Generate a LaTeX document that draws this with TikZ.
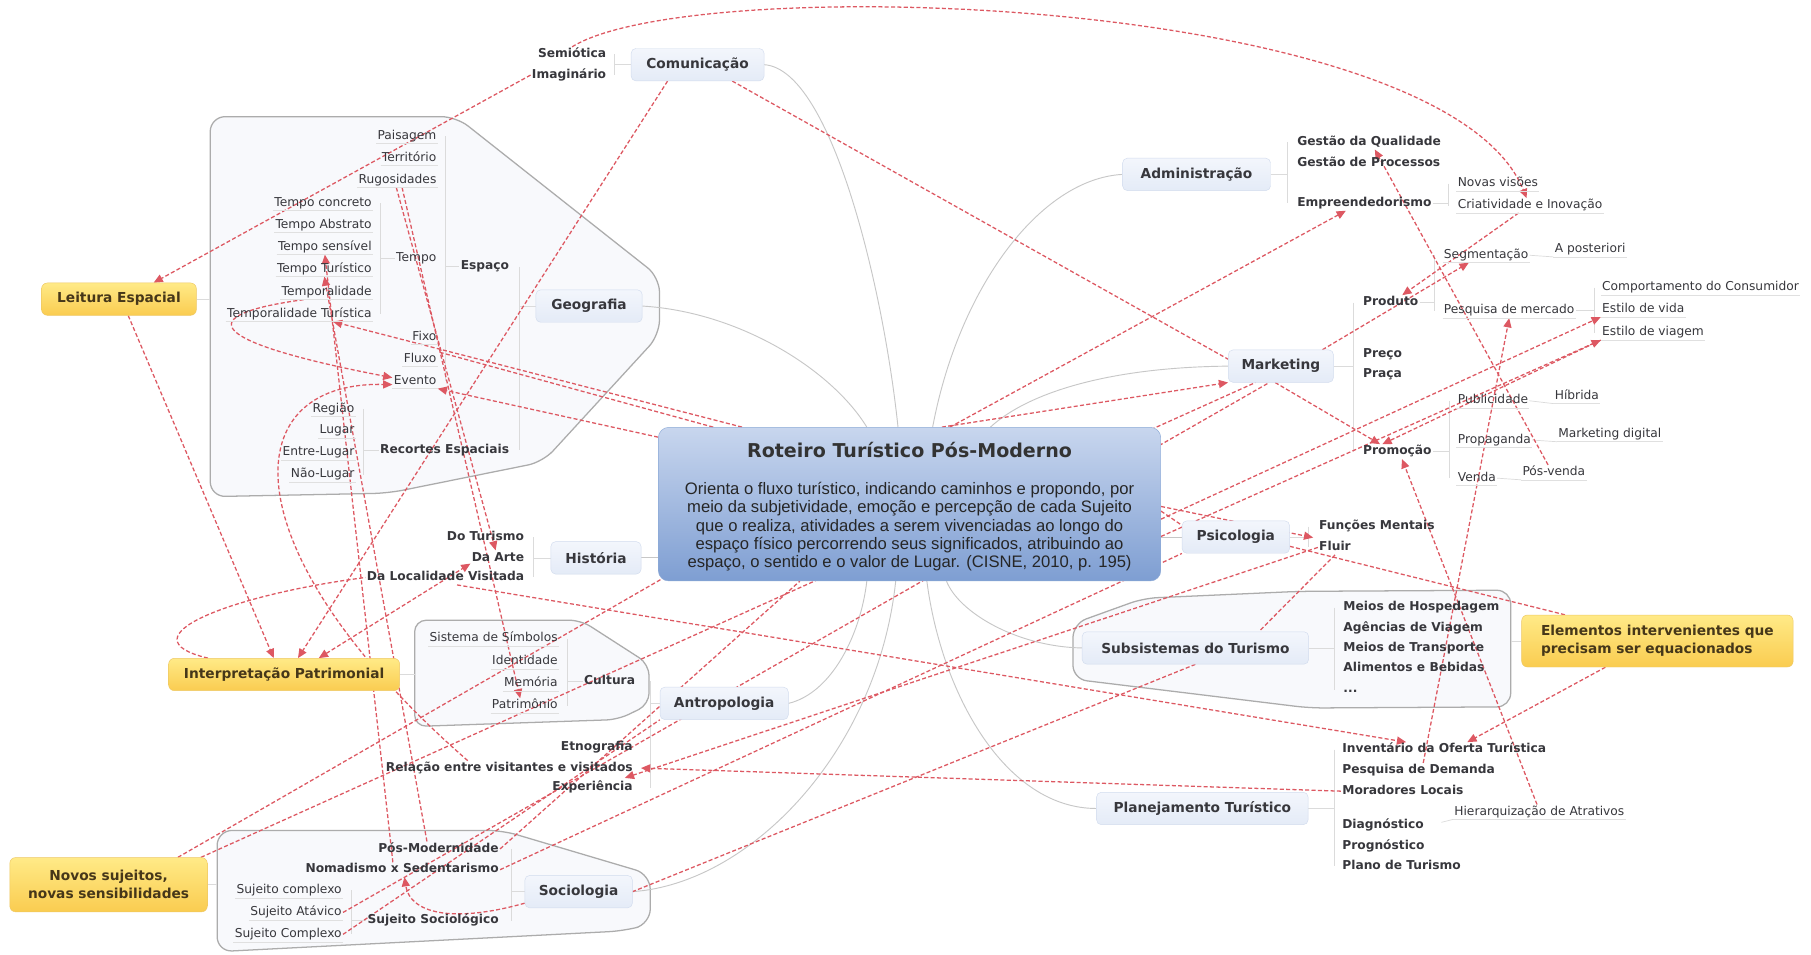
\documentclass[tikz,border=0pt]{standalone}
\usepackage{fontspec}
\setmainfont{DejaVu Sans}
\newfontfamily\arialfont{Liberation Sans}
\usetikzlibrary{arrows.meta}
\pgfdeclarelayer{bg}
\pgfdeclarelayer{lnk}
\pgfsetlayers{bg,lnk,main}
\definecolor{relred}{RGB}{221,88,98}
\definecolor{txt}{RGB}{55,55,60}
\definecolor{brfill}{RGB}{228,235,247}
\definecolor{brtop}{RGB}{243,246,252}
\definecolor{brdr}{RGB}{210,220,238}
\definecolor{ytop}{RGB}{255,234,135}
\definecolor{ybot}{RGB}{250,204,80}
\definecolor{ydr}{RGB}{238,200,100}
\definecolor{ytxt}{RGB}{70,55,25}
\definecolor{ctop}{RGB}{200,214,238}
\definecolor{cbot}{RGB}{126,158,210}
\definecolor{cdr}{RGB}{140,170,215}
\definecolor{grpfill}{RGB}{248,249,252}
\definecolor{grpdr}{RGB}{172,172,172}
\newcommand\mysmall{\fontsize{10.6}{12}\selectfont}
\newcommand\mysmallb{\fontsize{10.6}{12}\selectfont\bfseries}
\newcommand\myhead{\fontsize{11.9}{15.5}\selectfont\bfseries}
\newcommand\mytitle{\fontsize{16.5}{19}\selectfont\bfseries}
\newcommand\mybody{\arialfont\fontsize{14.4}{16}\selectfont}
\tikzset{
  grp/.style={draw=grpdr, line width=1.1pt, fill=grpfill, rounded corners=13pt},
  glink/.style={draw=black!22, line width=0.8pt},
  tree/.style={draw=black!14, line width=0.6pt},
  rel/.style={draw=relred, line width=1.1pt, dash pattern=on 3.5pt off 2pt},
  relA/.style={rel, -{Triangle[length=8pt,width=7pt]}, color=relred},
  relB/.style={rel, {Triangle[length=8pt,width=7pt]}-{Triangle[length=8pt,width=7pt]}, color=relred},
  branch/.style={draw=brdr, top color=brtop, bottom color=brfill, rounded corners=4pt, minimum height=28pt, font=\myhead, text=txt, inner sep=2pt},
  yel/.style={draw=ydr, top color=ytop, bottom color=ybot, rounded corners=5pt, minimum height=28pt, font=\myhead, text=ytxt, inner sep=2pt},
  ch/.style={font=\mysmall, text=txt, inner sep=1pt, text height=8pt, text depth=2.5pt},
  chb/.style={font=\mysmallb, text=txt, inner sep=1pt, text height=8pt, text depth=2.5pt},
  ul/.style={append after command={(\tikzlastnode.south west) edge[draw=black!12, line width=0.5pt] (\tikzlastnode.south east)}}
}
\begin{document}
\begin{tikzpicture}[x=1pt,y=1pt]
\useasboundingbox (0,0) rectangle (1568,-826);

% ---------------- center -----------------
\node[draw=cdr, top color=ctop, bottom color=cbot, rounded corners=9pt, minimum width=435pt, minimum height=133pt] (center) at (787.5,-436.5) {};
\node[font=\mytitle, text=black!80] (title) at (787.5,-390) {Roteiro Turístico Pós-Moderno};
\node[font=\mybody, align=center, text=black!85] (body) at (787.5,-456) {Orienta o fluxo turístico, indicando caminhos e propondo, por\\meio da subjetividade, emoção e percepção de cada Sujeito\\que o realiza, atividades a serem vivenciadas ao longo do\\espaço físico percorrendo seus significados, atribuindo ao\\espaço, o sentido e o valor de Lugar. (CISNE, 2010, p. 195)};

% ---------------- branches -----------------
\node[branch, minimum width=115pt] (com) at (604,-56) {Comunicação};
\node[branch, minimum width=92pt] (geo) at (510,-265) {Geografia};
\node[branch, minimum width=78pt] (his) at (516,-483) {História};
\node[branch, minimum width=111pt] (ant) at (627,-609) {Antropologia};
\node[branch, minimum width=93pt] (soc) at (501,-772) {Sociologia};
\node[branch, minimum width=128pt] (adm) at (1036,-151) {Administração};
\node[branch, minimum width=91pt] (mkt) at (1109,-317) {Marketing};
\node[branch, minimum width=93pt] (psi) at (1070,-465) {Psicologia};
\node[branch, minimum width=196pt] (sub) at (1035,-561) {Subsistemas do Turismo};
\node[branch, minimum width=183pt] (pla) at (1041,-700) {Planejamento Turístico};

\node[yel, minimum width=134pt] (leit) at (103,-259) {Leitura Espacial};
\node[yel, minimum width=200pt] (interp) at (246,-584) {Interpretação Patrimonial};
\node[yel, minimum width=171pt, minimum height=47pt, align=center] (novos) at (94,-766) {Novos sujeitos,\\novas sensibilidades};
\node[yel, minimum width=235pt, minimum height=45pt, align=left] (elem) at (1435,-555) {Elementos intervenientes que\\precisam ser equacionados};

% ---------------- children -----------------
\node[chb, anchor=east] (semi) at (526,-47) {Semiótica};
\node[chb, anchor=east] (imag) at (526,-65) {Imaginário};

\node[chb, anchor=east] (espaco) at (442,-231) {Espaço};
\node[chb, anchor=east] (recortes) at (442,-390) {Recortes Espaciais};
\node[ch, ul, anchor=east] (paisagem) at (379,-118) {Paisagem};
\node[ch, ul, anchor=east] (territorio) at (379,-137) {Território};
\node[ch, ul, anchor=east] (rugos) at (379,-156) {Rugosidades};
\node[ch, anchor=east] (tempo) at (379,-224) {Tempo};
\node[ch, ul, anchor=east] (fixo) at (379,-292) {Fixo};
\node[ch, ul, anchor=east] (fluxo) at (379,-311) {Fluxo};
\node[ch, ul, anchor=east] (evento) at (379,-330) {Evento};
\node[ch, ul, anchor=east] (tconc) at (323,-176) {Tempo concreto};
\node[ch, ul, anchor=east] (tabst) at (323,-195) {Tempo Abstrato};
\node[ch, ul, anchor=east] (tsens) at (323,-214) {Tempo sensível};
\node[ch, ul, anchor=east] (ttur) at (323,-233) {Tempo Turístico};
\node[ch, ul, anchor=east] (tempor) at (323,-253) {Temporalidade};
\node[ch, ul, anchor=east] (temportur) at (323,-272) {Temporalidade Turística};
\node[ch, ul, anchor=east] (regiao) at (308,-354) {Região};
\node[ch, ul, anchor=east] (lugar) at (308,-373) {Lugar};
\node[ch, ul, anchor=east] (entrel) at (308,-392) {Entre-Lugar};
\node[ch, ul, anchor=east] (naol) at (308,-411) {Não-Lugar};

\node[chb, anchor=east] (doturismo) at (455,-465) {Do Turismo};
\node[chb, anchor=east] (daarte) at (455,-483) {Da Arte};
\node[chb, anchor=east] (dalocal) at (455,-500) {Da Localidade Visitada};

\node[chb, anchor=east] (cultura) at (551,-590) {Cultura};
\node[ch, ul, anchor=east] (simbolos) at (484,-553) {Sistema de Símbolos};
\node[ch, ul, anchor=east] (identidade) at (484,-573) {Identidade};
\node[ch, ul, anchor=east] (memoria) at (484,-592) {Memória};
\node[ch, ul, anchor=east] (patrimonio) at (484,-611) {Patrimônio};
\node[chb, anchor=east] (etno) at (549,-647) {Etnografia};
\node[chb, anchor=east] (relacao) at (549,-665) {Relação entre visitantes e visitados};
\node[chb, anchor=east] (experiencia) at (549,-682) {Experiência};

\node[chb, anchor=east] (posmod) at (433,-735) {Pós-Modernidade};
\node[chb, anchor=east] (nomad) at (433,-753) {Nomadismo x Sedentarismo};
\node[chb, anchor=east] (sujsoc) at (433,-797) {Sujeito Sociológico};
\node[ch, ul, anchor=east] (sjc1) at (297,-771) {Sujeito complexo};
\node[ch, ul, anchor=east] (sjat) at (297,-790) {Sujeito Atávico};
\node[ch, ul, anchor=east] (sjc2) at (297,-809) {Sujeito Complexo};

\node[chb, anchor=west] (gqual) at (1122,-123) {Gestão da Qualidade};
\node[chb, anchor=west] (gproc) at (1122,-141) {Gestão de Processos};
\node[chb, anchor=west] (empre) at (1122,-176) {Empreendedorismo};
\node[ch, ul, anchor=west] (novasv) at (1261,-159) {Novas visões};
\node[ch, ul, anchor=west] (criat) at (1261,-178) {Criatividade e Inovação};

\node[chb, anchor=west] (produto) at (1179,-262) {Produto};
\node[chb, anchor=west] (preco) at (1179,-307) {Preço};
\node[chb, anchor=west] (praca) at (1179,-324) {Praça};
\node[chb, anchor=west] (promocao) at (1179,-391) {Promoção};
\node[ch, ul, anchor=west] (segm) at (1249,-221) {Segmentação};
\node[ch, ul, anchor=west] (pesqm) at (1249,-269) {Pesquisa de mercado};
\node[ch, ul, anchor=west] (aposter) at (1345,-216) {A posteriori};
\node[ch, ul, anchor=west] (comport) at (1386,-249) {Comportamento do Consumidor};
\node[ch, ul, anchor=west] (estvida) at (1386,-268) {Estilo de vida};
\node[ch, ul, anchor=west] (estviag) at (1386,-288) {Estilo de viagem};
\node[ch, ul, anchor=west] (public) at (1261,-347) {Publicidade};
\node[ch, ul, anchor=west] (propag) at (1261,-381) {Propaganda};
\node[ch, ul, anchor=west] (venda) at (1261,-414) {Venda};
\node[ch, ul, anchor=west] (hibrida) at (1345,-343) {Híbrida};
\node[ch, ul, anchor=west] (mktdig) at (1348,-376) {Marketing digital};
\node[ch, ul, anchor=west] (posvenda) at (1317,-409) {Pós-venda};

\node[chb, anchor=west] (funcoes) at (1141,-456) {Funções Mentais};
\node[chb, anchor=west] (fluir) at (1141,-474) {Fluir};

\node[chb, anchor=west] (hosped) at (1162,-526) {Meios de Hospedagem};
\node[chb, anchor=west] (agencias) at (1162,-544) {Agências de Viagem};
\node[chb, anchor=west] (transp) at (1162,-561) {Meios de Transporte};
\node[chb, anchor=west] (alim) at (1162,-579) {Alimentos e Bebidas};
\node[chb, anchor=west] (dots) at (1162,-597) {...};

\node[chb, anchor=west] (invent) at (1161,-649) {Inventário da Oferta Turística};
\node[chb, anchor=west] (pesqd) at (1161,-667) {Pesquisa de Demanda};
\node[chb, anchor=west] (morad) at (1161,-685) {Moradores Locais};
\node[chb, anchor=west] (diag) at (1161,-715) {Diagnóstico};
\node[chb, anchor=west] (progn) at (1161,-733) {Prognóstico};
\node[chb, anchor=west] (plano) at (1161,-750) {Plano de Turismo};
\node[ch, ul, anchor=west] (hierarq) at (1258,-703) {Hierarquização de Atrativos};

% ---------------- background: groups, links, tree lines -----------------
\begin{pgfonlayer}{bg}
\fill[white] (0,0) rectangle (1568,-826);
\draw[grp] (182,-101) -- (395,-101) -- (571,-240) -- (571,-290) -- (470,-400) -- (336,-427) -- (182,-430) -- cycle;
\draw[grp, rounded corners=10pt] (359,-537) -- (503,-537) -- (562,-575) -- (562,-610) -- (535,-623) -- (359,-629) -- cycle;
\draw[grp] (188,-719) -- (435,-719) -- (563,-757) -- (563,-800) -- (540,-806) -- (188,-824) -- cycle;
\draw[grp, rounded corners=12pt] (929,-588) -- (929,-540) -- (990,-518) -- (1125,-512) -- (1308,-511) -- (1308,-612) -- (1134,-613) -- cycle;

\draw[glink] (com.east) .. controls (720,-60) and (765,-250) .. ([xshift=-10pt]center.north);
\draw[glink] (geo.east) .. controls (640,-270) and (720,-320) .. ([xshift=-37pt]center.north);
\draw[glink] (adm.west) .. controls (900,-155) and (830,-250) .. ([xshift=20pt]center.north);
\draw[glink] (mkt.west) .. controls (960,-318) and (890,-340) .. ([xshift=70pt]center.north);
\draw[glink] (his.east) -- (his.east -| center.west);
\draw[glink] (psi.west) -- (psi.west -| center.east);
\draw[glink] (ant.east) .. controls (720,-600) and (745,-550) .. ([xshift=-37pt]center.south);
\draw[glink] (soc.east) .. controls (650,-765) and (760,-650) .. ([xshift=-12pt]center.south);
\draw[glink] (sub.west) .. controls (880,-560) and (830,-530) .. ([xshift=32pt]center.south);
\draw[glink] (pla.west) .. controls (870,-700) and (815,-600) .. ([xshift=15pt]center.south);

\draw[tree] (532,-47) -- (532,-65) (532,-56) -- (com.west);
\draw[tree] (450,-231) -- (450,-390) (450,-265) -- (geo.west);
\draw[tree] (386,-118) -- (386,-330) (386,-231) -- (espaco.west);
\draw[tree] (329,-176) -- (329,-272) (329,-224) -- (tempo.west);
\draw[tree] (315,-354) -- (315,-411) (315,-390) -- (recortes.west);
\draw[tree] (462,-465) -- (462,-500) (462,-483) -- (his.west);
\draw[tree] (563,-590) -- (563,-682) (563,-609) -- (ant.west);
\draw[tree] (491,-553) -- (491,-611) (491,-590) -- (cultura.west);
\draw[tree] (443,-735) -- (443,-797) (443,-772) -- (soc.west);
\draw[tree] (304,-771) -- (304,-809) (304,-797) -- (sujsoc.west);
\draw[tree] (1115,-123) -- (1115,-176) (adm.east) -- (1115,-151);
\draw[tree] (1254,-159) -- (1254,-178) (empre.east) -- (1254,-176);
\draw[tree] (1172,-262) -- (1172,-391) (mkt.east) -- (1172,-317);
\draw[tree] (1242,-221) -- (1242,-269) (produto.east) -- (1242,-262);
\draw[tree] (segm.east) -- (aposter.south west);
\draw[tree] (1380,-249) -- (1380,-288) (pesqm.east) -- (1380,-269);
\draw[tree] (1255,-347) -- (1255,-414) (promocao.east) -- (1255,-391);
\draw[tree] (public.east) -- (hibrida.south west);
\draw[tree] (propag.east) -- (mktdig.south west);
\draw[tree] (venda.east) -- (posvenda.south west);
\draw[tree] (1133,-456) -- (1133,-474) (psi.east) -- (1133,-465);
\draw[tree] (1155,-526) -- (1155,-597) (sub.east) -- (1155,-561);
\draw[tree] (1155,-649) -- (1155,-750) (pla.east) -- (1155,-700);
\draw[tree] (1248,-712) -- (hierarq.south west);
\draw[tree] (leit.east) -- (182,-259);
\draw[tree] (interp.east) -- (359,-584);
\draw[tree] (novos.east) -- (188,-766);
\draw[tree] (elem.west) -- (1308,-555);
\end{pgfonlayer}

% ---------------- relationships -----------------
\begin{pgfonlayer}{lnk}
\draw[relA] (semi.north) .. controls (600,25) and (1250,5) .. ([xshift=-3pt]criat.north);
\draw[relA] (imag.west) -- ([xshift=30pt]leit.north);
\draw[relA] ([xshift=-26pt]com.south) -- ([xshift=12pt]interp.north);
\draw[rel] ([xshift=30pt]com.south) -- ([yshift=6pt]mkt.west);
\draw[relA] ([xshift=8pt]leit.south) -- ([xshift=-9pt]interp.north);
\draw[rel] ([xshift=-66pt]interp.north) .. controls (105,-552) and (200,-515) .. (dalocal.west);
\draw[relB] ([xshift=30pt]interp.north) -- ([yshift=-5pt]daarte.west);
\draw[relA] ([xshift=-20pt]tempor.south) .. controls (150,-275) and (200,-300) .. ([yshift=3pt]evento.west);
\draw[relA] ([xshift=-36pt]relacao.north) .. controls (200,-480) and (200,-330) .. ([yshift=-3pt]evento.west);
\draw[relA] ([xshift=-145pt]center.north) -- ([xshift=29pt]temportur.south);
\draw[relA] ([yshift=58pt]center.west) -- (evento.south east);
\draw[rel] ([xshift=-170pt]center.north) -- (fluxo.north east);
\draw[relA] ([xshift=-1pt]rugos.south) -- ([xshift=-2pt]daarte.north);
\draw[relA] ([xshift=4pt]rugos.south) -- ([xshift=-4pt]patrimonio.north);
\draw[relA] ([xshift=-8pt]nomad.north) -- (tsens.south);
\draw[relA] ([xshift=-10pt]posmod.north) -- (ttur.south);
\draw[relA] ([yshift=-10pt]soc.west) .. controls (390,-800) and (355,-790) .. ([xshift=2pt]nomad.south);
\draw[rel] ([xshift=60pt]novos.north) -- ([xshift=5pt,yshift=3pt]center.south west);
\draw[rel] ([xshift=80pt]novos.north) -- ([xshift=-22pt]mkt.south);
\draw[relA] ([xshift=35pt]center.north) -- ([xshift=-16pt]empre.south);
\draw[relA] ([xshift=28pt]center.north) -- (mkt.south west);
\draw[relA] ([xshift=-10pt]criat.south) -- ([xshift=10pt]produto.north);
\draw[relA] ([xshift=36pt]mkt.north) -- ([xshift=-15pt]segm.south);
\draw[relA] ([xshift=-5pt]posvenda.north) -- ([xshift=5pt]gqual.south);
\draw[relA] ([xshift=-5pt]mkt.south) -- ([xshift=-15pt]promocao.north);
\draw[relA] (estviag.south west) -- ([xshift=-13pt]promocao.north);
\draw[relA] ([yshift=-13pt]center.east) -- (estvida.south west);
\draw[relA] ([yshift=-28pt]center.east) -- (estviag.south west);
\draw[relA] ([yshift=-2pt]center.east) -- ([xshift=-4pt,yshift=-3pt]funcoes.south west);
\draw[rel] ([yshift=-6pt]center.east) -- ([yshift=-4pt]psi.north west);
\draw[rel] (fluir.south) -- ([xshift=55pt]sub.north);
\draw[relA] (fluir.west) -- ([xshift=-8pt,yshift=2pt]experiencia.north east);
\draw[relA] (morad.west) -- ([xshift=6pt]relacao.east);
\draw[rel] (sub.south) -- (soc.east);
\draw[relA] ([xshift=10pt]dalocal.south) -- ([xshift=-33pt]invent.north);
\draw[relA] ([xshift=-45pt]elem.south) -- ([xshift=20pt]invent.north);
\draw[relA] ([xshift=4pt]pesqd.north) -- (pesqm.south);
\draw[relA] ([xshift=-2pt]hierarq.north) -- ([xshift=4pt]promocao.south);
\draw[rel] ([yshift=-8pt]psi.east) -- ([xshift=-80pt]elem.north);
\draw[rel] (sjc2.east) -- (ant.south west);
\draw[rel] (sjat.east) -- ([xshift=-10pt]mkt.south);
\draw[rel] (nomad.east) -- (psi.south west);
\draw[rel] (posmod.east) -- ([xshift=-95pt]center.south);
\end{pgfonlayer}
\end{tikzpicture}
\end{document}
